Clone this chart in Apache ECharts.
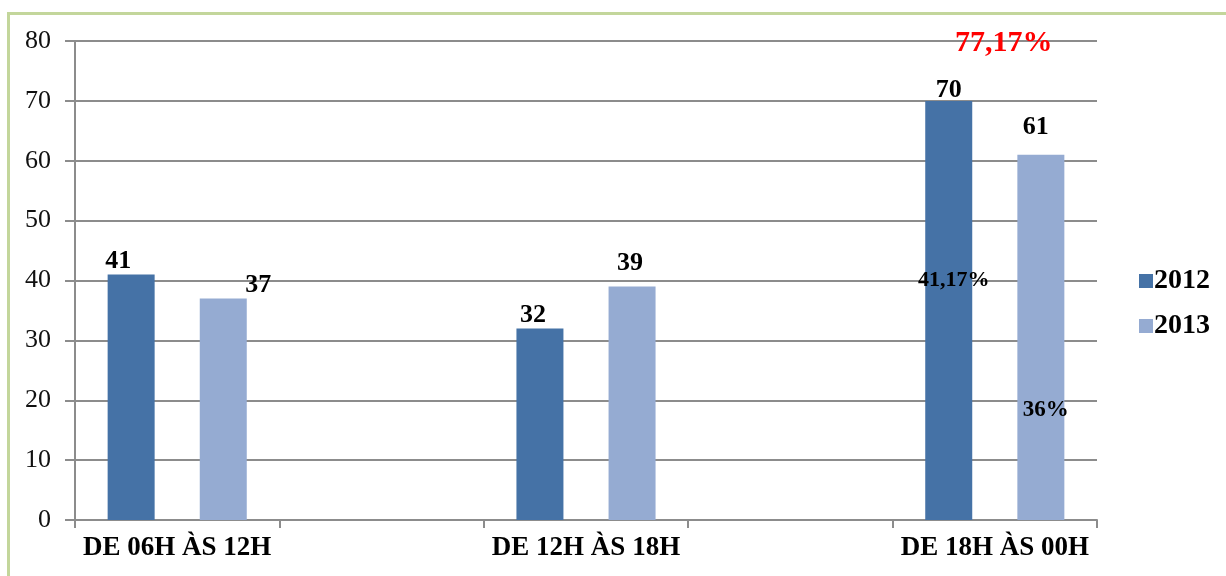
<!DOCTYPE html>
<html>
<head>
<meta charset="utf-8">
<script src="https://cdn.jsdelivr.net/npm/echarts@6/dist/echarts.min.js"></script>
<style>
  html, body { margin: 0; padding: 0; background: #fff; }
  #chart { position: absolute; left: 0; top: 0; width: 1226px; height: 576px; }
  #frame { position: absolute; left: 7px; top: 12px; width: 1230px; height: 580px;
           border-top: 3px solid #c3d69b; border-left: 3px solid #c3d69b; pointer-events: none; }
</style>
</head>
<body>
<div id="chart"></div>
<div id="frame"></div>
<script>
  // categorias (as vazias separam os grupos)
  var categories = ['DE 06H ÀS 12H', '', 'DE 12H ÀS 18H', '', 'DE 18H ÀS 00H'];
  var values2012 = [41, null, 32, null, 70];
  var values2013 = [37, null, 39, null, 61];
  var yTicks = [0, 10, 20, 30, 40, 50, 60, 70, 80];

  // anotações: [categoria, nível no eixo, texto]
  var notes2012 = [[4, 79.6, '77,17%'], [4, 40, '41,17%']];
  var notes2013 = [[4, 18.4, '36%']];

  // deslocamento dos rótulos de valor (estilo)
  var offs2012 = [[-13, 2], null, [-7, 2], null, [0, 4]];
  var offs2013 = [[35, 2], null, [-2, -8], null, [-5, -12]];

  var chart = echarts.init(document.getElementById('chart'));

  function barData(vals, offs) {
    return vals.map(function (v, i) {
      if (v == null) return null;
      return { value: v, label: { offset: offs[i] || [0, 0] } };
    });
  }

  function notePoints(list, style) {
    return list.map(function (n) {
      return {
        coord: [n[0], n[1]],
        value: n[2],
        label: Object.assign({ show: true, position: 'inside', formatter: n[2] }, style)
      };
    });
  }

  var serif = '"Liberation Serif", "DejaVu Serif", serif';

  var option = {
    animation: false,
    backgroundColor: '#ffffff',
    textStyle: { fontFamily: serif },
    grid: { left: 75, right: 129, top: 41, bottom: 56, containLabel: false },
    legend: {
      orient: 'vertical',
      left: 1134,
      top: 262,
      itemWidth: 14,
      itemHeight: 14,
      itemGap: 17,
      icon: 'rect',
      data: ['2012', '2013'],
      textStyle: { fontFamily: serif, fontSize: 28, fontWeight: 'bold', color: '#000', padding: [0, 0, 0, -4] }
    },
    xAxis: {
      type: 'category',
      data: categories,
      axisLine: { lineStyle: { color: '#8c8c8c', width: 2 } },
      axisTick: { show: true, length: 8, lineStyle: { color: '#8c8c8c', width: 2 } },
      axisLabel: { margin: 15, fontFamily: serif, fontSize: 27, fontWeight: 'bold', color: '#000', interval: 0 }
    },
    yAxis: {
      type: 'value',
      min: yTicks[0],
      max: yTicks[yTicks.length - 1],
      interval: 10,
      axisLine: { show: true, lineStyle: { color: '#8c8c8c', width: 2 } },
      axisTick: { show: true, inside: false, length: 10, lineStyle: { color: '#8c8c8c', width: 2 } },
      axisLabel: { margin: 24, fontFamily: serif, fontSize: 26, color: '#111' },
      splitLine: { lineStyle: { color: '#8c8c8c', width: 2 } }
    },
    series: [{
      name: '2012',
      type: 'bar',
      barWidth: 47,
      barGap: '96%',
      itemStyle: { color: '#4572a6' },
      label: { show: true, position: 'top', distance: 2, fontFamily: serif, fontSize: 26, fontWeight: 'bold', color: '#000' },
      data: barData(values2012, offs2012),
      markPoint: {
        symbol: 'rect',
        symbolSize: 0,
        data: notePoints(notes2012, {}),
        label: { fontFamily: serif, fontWeight: 'bold' }
      }
    }, {
      name: '2013',
      type: 'bar',
      barWidth: 47,
      barGap: '96%',
      itemStyle: { color: '#95abd2' },
      label: { show: true, position: 'top', distance: 2, fontFamily: serif, fontSize: 26, fontWeight: 'bold', color: '#000' },
      data: barData(values2013, offs2013),
      markPoint: {
        symbol: 'rect',
        symbolSize: 0,
        data: notePoints(notes2013, { fontSize: 23, color: '#000', offset: [5, 0] }),
        label: { fontFamily: serif, fontWeight: 'bold' }
      }
    }]
  };

  // estilos específicos das anotações da série 2012
  option.series[0].markPoint.data[0].label.fontSize = 30;
  option.series[0].markPoint.data[0].label.color = '#ff0000';
  option.series[0].markPoint.data[0].label.offset = [55, 0];
  option.series[0].markPoint.data[1].label.fontSize = 22;
  option.series[0].markPoint.data[1].label.color = '#000';
  option.series[0].markPoint.data[1].label.offset = [5, 0];

  chart.setOption(option);
</script>
</body>
</html>
